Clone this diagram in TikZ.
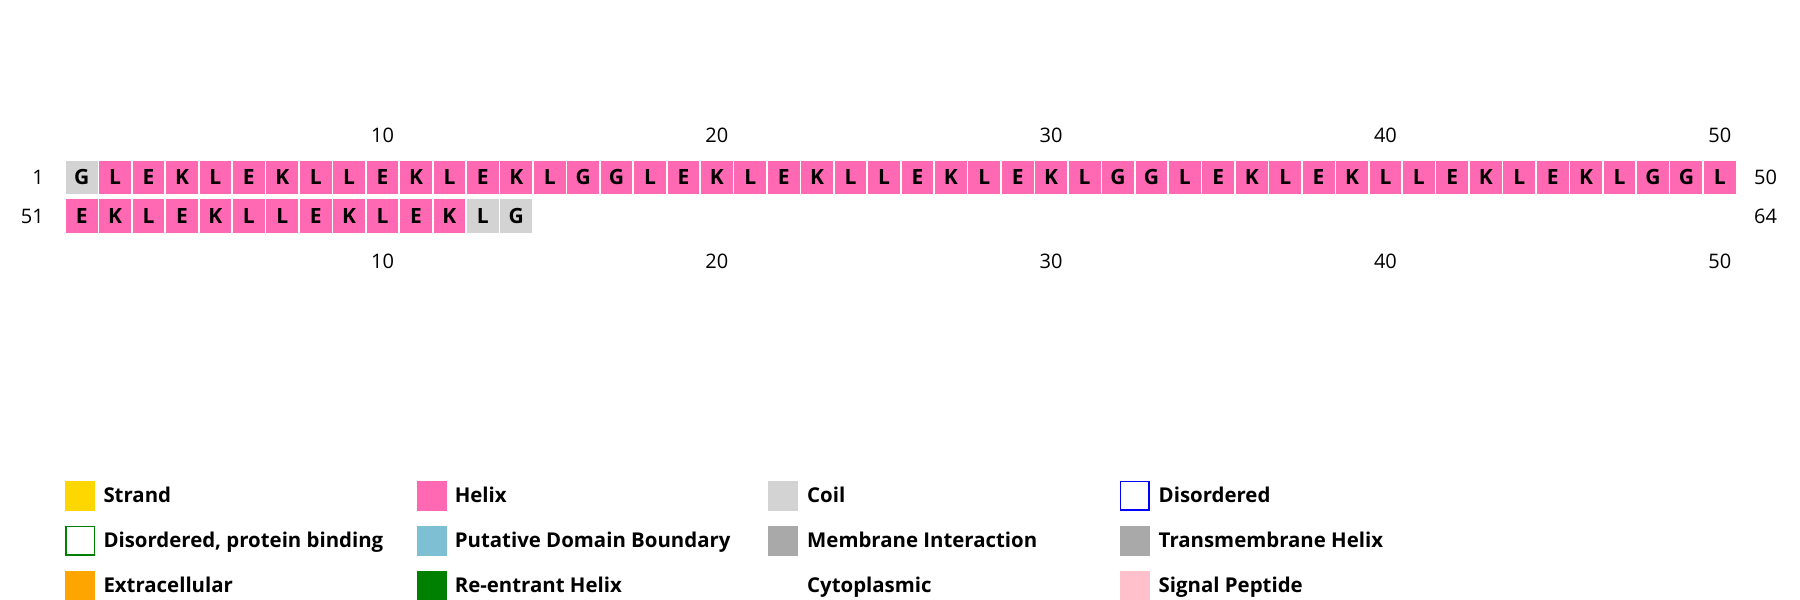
\documentclass[tikz,border=0pt]{standalone}
\usepackage{fontspec}
\setmainfont{Open Sans}
\definecolor{helix}{HTML}{FF69B4}
\definecolor{coil}{HTML}{D3D3D3}
\definecolor{strand}{HTML}{FFD700}
\definecolor{pdb}{HTML}{7FBFD4}
\definecolor{memb}{HTML}{A9A9A9}
\definecolor{extra}{HTML}{FFA500}
\definecolor{reent}{HTML}{008000}
\definecolor{sigp}{HTML}{FFC0CB}
\definecolor{disgreen}{HTML}{008000}
\definecolor{disblue}{HTML}{0000FF}
\begin{document}
\begin{tikzpicture}[x=1pt,y=-1pt,
  cell/.style={rectangle,minimum width=31.8pt,minimum height=33.3pt,inner sep=0pt,
    font=\fontsize{21}{21}\selectfont\bfseries,text=black},
  num/.style={inner sep=0pt,font=\fontsize{20}{20}\selectfont,text=black},
  legbox/.style={rectangle,minimum width=30pt,minimum height=30pt,inner sep=0pt},
  legout/.style={rectangle,minimum width=28.5pt,minimum height=28.5pt,inner sep=0pt,line width=1.5pt,fill=white},
  legtext/.style={anchor=base west,inner sep=0pt,font=\fontsize{20.4}{20.4}\selectfont\bfseries,text=black}]
\useasboundingbox (0,0) rectangle (1800,600);
% row 1
\foreach \l [count=\i] in {G,L,E,K,L,E,K,L,L,E,K,L,E,K,L,G,G,L,E,K,L,E,K,L,L,E,K,L,E,K,L,G,G,L,E,K,L,E,K,L,L,E,K,L,E,K,L,G,G,L}{
  \pgfmathsetmacro\cx{81.7+(\i-1)*33.43}
  \ifnum\i=1 \def\cc{coil}\else\def\cc{helix}\fi
  \node[cell,fill=\cc] (a\i) at (\cx,177.3) {\l};
}
% row 2
\foreach \l [count=\i] in {E,K,L,E,K,L,L,E,K,L,E,K,L,G}{
  \pgfmathsetmacro\cx{81.7+(\i-1)*33.43}
  \ifnum\i>12 \def\cc{coil}\else\def\cc{helix}\fi
  \node[cell,fill=\cc] (b\i) at (\cx,216) {\l};
}
% row numbers
\node[num,anchor=east] (l1) at (44,177.3) {1};
\node[num,anchor=east] (l51) at (44,216) {51};
\node[num,anchor=west] (r50) at (1754,177.3) {50};
\node[num,anchor=west] (r64) at (1754,216) {64};
% ticks
\foreach \t in {10,20,30,40,50}{
  \pgfmathsetmacro\cx{81.7+(\t-1)*33.43}
  \node[num] (tt\t) at (\cx,135) {\t};
  \node[num] (tb\t) at (\cx,261.7) {\t};
}
% legend
\node[legbox,fill=strand] (k1) at (80,495.7) {};
\node[legtext] (t1) at (103.3,502.8) {Strand};
\node[legbox,fill=helix] (k2) at (431.6,495.7) {};
\node[legtext] (t2) at (454.6,502.8) {Helix};
\node[legbox,fill=coil] (k3) at (783.2,495.7) {};
\node[legtext] (t3) at (807,502.8) {Coil};
\node[legout,draw=disblue] (k4) at (1134.8,495.7) {};
\node[legtext] (t4) at (1158.5,502.8) {Disordered};

\node[legout,draw=disgreen] (k5) at (80,540.7) {};
\node[legtext] (t5) at (103.3,547.8) {Disordered, protein binding};
\node[legbox,fill=pdb] (k6) at (431.6,540.7) {};
\node[legtext] (t6) at (454.6,547.8) {Putative Domain Boundary};
\node[legbox,fill=memb] (k7) at (783.2,540.7) {};
\node[legtext] (t7) at (807,547.8) {Membrane Interaction};
\node[legbox,fill=memb] (k8) at (1134.8,540.7) {};
\node[legtext] (t8) at (1158.5,547.8) {Transmembrane Helix};

\node[legbox,fill=extra] (k9) at (80,585.7) {};
\node[legtext] (t9) at (103.3,592.8) {Extracellular};
\node[legbox,fill=reent] (k10) at (431.6,585.7) {};
\node[legtext] (t10) at (454.6,592.8) {Re-entrant Helix};
\node[legtext] (t11) at (807,592.8) {Cytoplasmic};
\node[legbox,fill=sigp] (k12) at (1134.8,585.7) {};
\node[legtext] (t12) at (1158.5,592.8) {Signal Peptide};
\end{tikzpicture}
\end{document}
